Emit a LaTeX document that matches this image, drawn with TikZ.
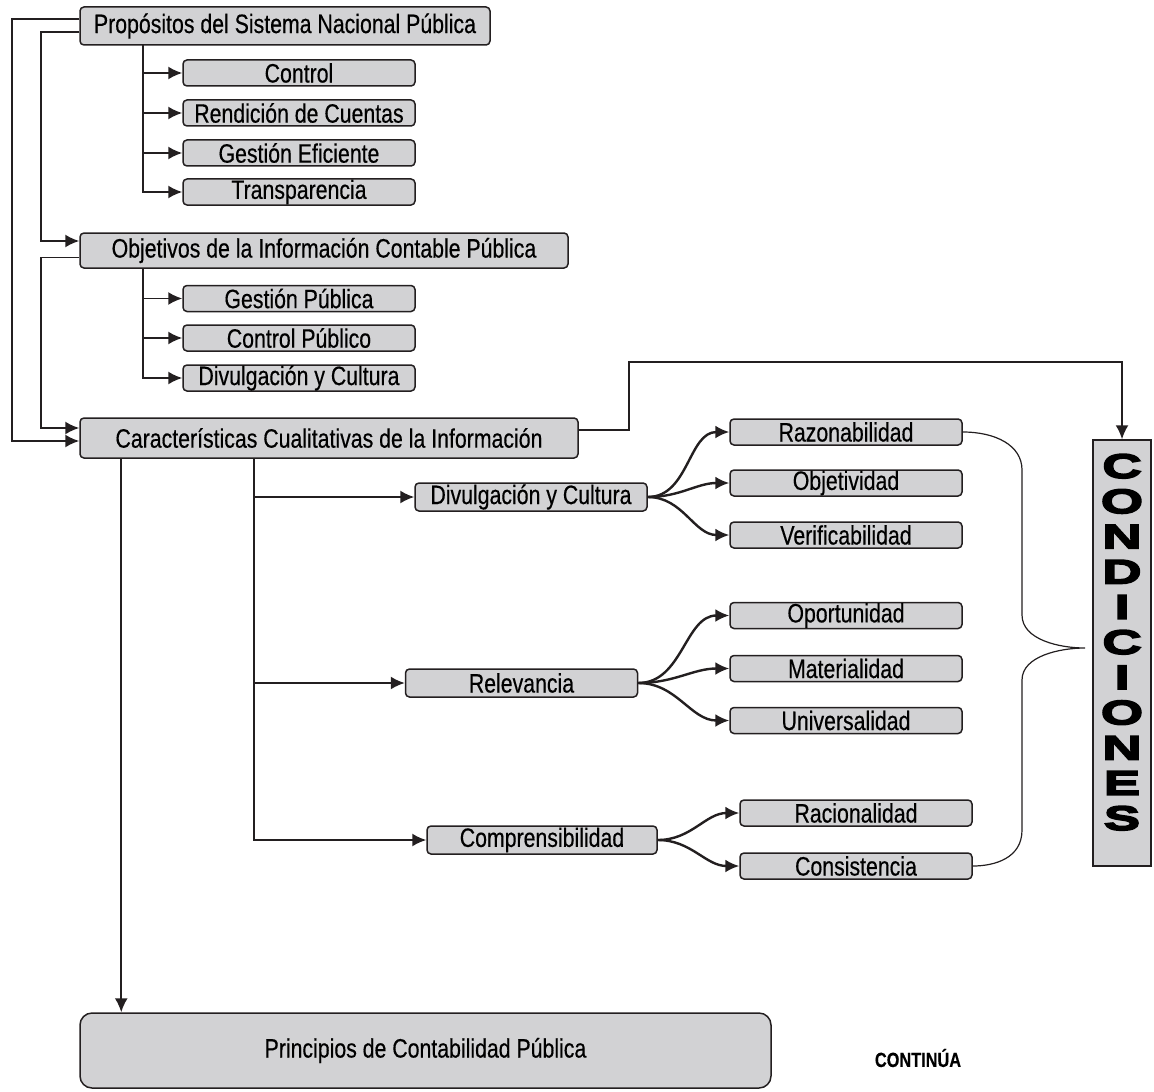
\documentclass[tikz,border=0pt]{standalone}
\usepackage{fontspec}
\setmainfont[FakeStretch=0.8,FakeBold=0.4]{Liberation Sans}
\newfontfamily\heavyfont[FakeStretch=1.6,FakeBold=5]{Liberation Sans}
\usetikzlibrary{arrows.meta}
\definecolor{Ink}{HTML}{231F20}
\definecolor{BoxGray}{HTML}{D2D2D4}
\tikzset{
  box/.style={draw=Ink,fill=BoxGray,line width=.75pt,rounded corners=2pt,inner sep=0pt,
    minimum width=116pt,minimum height=13pt,font=\fontsize{13.3}{14}\selectfont},
  bigbox/.style={box,minimum height=18pt},
  arr/.style={Ink,line width=.9pt,-{Latex[length=7pt,width=6.5pt]}},
  curvearr/.style={arr,line width=1.2pt},
  letter/.style={font=\heavyfont\bfseries\fontsize{17}{17}\selectfont,inner sep=0pt}
}

\begin{document}
\begin{tikzpicture}[x=0.5pt,y=-0.5pt]
  \useasboundingbox (0,0) rectangle (1154,1091);
  % top block
  \node[bigbox,minimum width=205pt,minimum height=19pt] (prop) at (285,26) {Propósitos del Sistema Nacional Pública};
  \node[box] (ctrl) at (299,73) {Control};
  \node[box] (rend) at (299,113) {Rendición de Cuentas};
  \node[box] (gest) at (299,153) {Gestión Eficiente};
  \node[box] (trans) at (299,192) {Transparencia};
  \coordinate (t1) at (143,45);
  \draw[arr] (t1) |- (trans.west);
  \foreach \n in {ctrl,rend,gest}
    \draw[arr] (t1 |- \n.west) -- (\n.west);
  % second block
  \node[bigbox,minimum width=244pt,minimum height=17.5pt] (obj) at (324,250.5) {Objetivos de la Información Contable Pública};
  \node[box] (gpub) at (299,298.5) {Gestión Pública};
  \node[box] (cpub) at (299,338) {Control Público};
  \node[box] (divu) at (299,378) {Divulgación y Cultura};
  \coordinate (t2) at (143,268);
  \draw[arr] (t2) |- (divu.west);
  \foreach \n in {gpub,cpub}
    \draw[arr] (t2 |- \n.west) -- (\n.west);
  % third block
  \node[bigbox,minimum width=249pt,minimum height=20pt] (car) at (329,438) {Características Cualitativas de la Información};
  \draw[arr] ([yshift=3.5pt]prop.west) -- ++(-67,0) |- ([yshift=-1.5pt]car.west);
  \draw[arr] ([yshift=-3pt]prop.west) -- ++(-38,0) |- ([yshift=4.75pt]obj.west);
  \draw[arr] ([yshift=-3.5pt]obj.west) -- ++(-38,0) |- ([yshift=5pt]car.west);

  \node[box,minimum height=14pt] (div2) at (531,497) {Divulgación y Cultura};
  \node[box,minimum height=14pt] (rel) at (521.5,683) {Relevancia};
  \node[box,minimum height=14pt,minimum width=115pt] (com) at (542,840) {Comprensibilidad};
  \coordinate (v2) at ([xshift=87.5pt]car.south west);
  \draw[arr] (v2) |- (com.west);
  \foreach \n in {div2,rel}
    \draw[arr] (v2 |- \n.west) -- (\n.west);

  \node[box] (raz) at (846,432) {Razonabilidad};
  \node[box] (objt) at (846,483) {Objetividad};
  \node[box] (ver) at (846,535) {Verificabilidad};
  \node[box] (opo) at (846,615.5) {Oportunidad};
  \node[box] (mat) at (846,668.5) {Materialidad};
  \node[box] (uni) at (846,720.5) {Universalidad};
  \node[box] (rac) at (856,813) {Racionalidad};
  \node[box] (cons) at (856,866) {Consistencia};
  \foreach \a/\b in {div2/raz,div2/objt,div2/ver,rel/opo,rel/mat,rel/uni,com/rac,com/cons}
    \draw[curvearr] (\a.east) to[out=0,in=180] (\b.west);

  % condiciones
  \node[draw=Ink,fill=BoxGray,line width=.75pt,minimum width=29pt,minimum height=213pt,inner sep=0pt] (cond) at (1122,653) {};
  \foreach \l [count=\i] in {C,O,N,D,I,C,I,O,N,E,S}
    \node[letter] (l\i) at (1122,{431+35.2*\i}) {\l};
  \coordinate (c1) at ([yshift=38.5pt]cond.north);
  \draw[arr] ([yshift=4pt]car.east) -- ++(50,0) |- (c1) -- (cond.north);
  \draw[Ink,line width=.6pt] (raz.east) .. controls (995,432) and (1022,445) .. (1022,470)
    -- (1022,615) .. controls (1022,640) and (1060,648) .. (1085,648)
    .. controls (1060,648) and (1022,656) .. (1022,680)
    -- (1022,830) .. controls (1022,858) and (995,866) .. (cons.east);

  % bottom
  \node[box,rounded corners=6pt,minimum width=345.5pt,minimum height=37.5pt] (prin) at (425.5,1050.5) {Principios de Contabilidad Pública};
  \draw[arr] ([xshift=21pt]car.south west) -- ([xshift=21pt]prin.north west);
  \node[font=\bfseries\fontsize{10.2}{11}\selectfont] (cont) at (918,1058) {CONTINÚA};
\end{tikzpicture}
\end{document}
